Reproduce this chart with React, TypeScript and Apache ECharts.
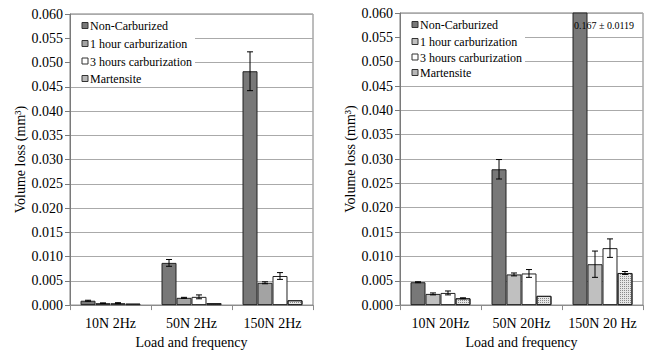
import React, { useEffect, useRef } from "react";
import * as echarts from "echarts";

const categoriesA = ["10N 2Hz", "50N 2Hz", "150N 2Hz"];
const categoriesB = ["10N 20Hz", "50N 20Hz", "150N 20 Hz"];
const seriesNames = ["Non-Carburized", "1 hour carburization", "3 hours carburization", "Martensite"];
const yTicks = { min: 0, max: 0.06, interval: 0.005 };

// Chart A (2 Hz)
const nonCarbA = [0.0009, 0.0087, 0.0482];
const oneHourA = [0.0004, 0.0015, 0.0046];
const threeHourA = [0.0004, 0.0017, 0.006];
const martA = [0.0003, 0.0004, 0.001];
const nonCarbErrA = [0.0001, 0.0007, 0.004];
const oneHourErrA = [0.00005, 0.0001, 0.0002];
const threeHourErrA = [0.0001, 0.0004, 0.0007];
const martErrA = [0, 0, 0];

// Chart B (20 Hz)
const nonCarbB = [0.0047, 0.0279, 0.167];
const oneHourB = [0.0023, 0.0063, 0.0084];
const threeHourB = [0.0025, 0.0065, 0.0117];
const martB = [0.0014, 0.0019, 0.0066];
const nonCarbErrB = [0.0001, 0.002, 0];
const oneHourErrB = [0.0002, 0.0003, 0.0027];
const threeHourErrB = [0.0004, 0.0008, 0.0019];
const martErrB = [0.0001, 0, 0.0003];

const annotationText = "0.167 ± 0.0119";

const FONT = "Liberation Serif, serif";
const GAP = 0.26;

export default function App() {
  const ref = useRef<HTMLDivElement>(null);
  useEffect(() => {
    if (!ref.current) return;
    const chart = echarts.init(ref.current, null, { renderer: "svg" });

    const colorsA = ["#787878", "#a3a3a3", "#ffffff", "#e6e6e6"];
    const colorsB = ["#787878", "#c0c0c0", "#ffffff", "#e6e6e6"];
    const legendIconA = ["#787878", "#a3a3a3", "#ffffff", "#b8b8b8"];
    const legendIconB = ["#787878", "#c0c0c0", "#ffffff", "#b8b8b8"];
    const decal = {
      symbol: "rect",
      symbolSize: 1,
      dashArrayX: [1, 1],
      dashArrayY: [1, 1],
      color: "#8a8a8a",
    };

    const valsA = [nonCarbA, oneHourA, threeHourA, martA];
    const errsA = [nonCarbErrA, oneHourErrA, threeHourErrA, martErrA];
    const valsB = [nonCarbB, oneHourB, threeHourB, martB];
    const errsB = [nonCarbErrB, oneHourErrB, threeHourErrB, martErrB];

    const barSeries = (gi: number, vals: number[][], colors: string[]) =>
      vals.map((v, i) => ({
        type: "bar",
        name: seriesNames[i],
        xAxisIndex: gi,
        yAxisIndex: gi,
        data: v,
        barGap: "0%",
        barCategoryGap: GAP * 100 + "%",
        clip: true,
        itemStyle: {
          color: colors[i],
          borderColor: "#222",
          borderWidth: 1,
          ...(i === 3 ? { decal } : {}),
        },
      }));

    const errSeries = (gi: number, vals: number[][], errs: number[][]) => {
      const data: number[][] = [];
      vals.forEach((v, si) =>
        v.forEach((val, ci) => {
          const e = errs[si][ci];
          if (e > 0 && val + e < 0.06) data.push([ci, val - e, val + e, si]);
        })
      );
      return {
        type: "custom",
        xAxisIndex: gi,
        yAxisIndex: gi,
        z: 10,
        encode: { x: 0, y: [1, 2] },
        data,
        renderItem: (params: any, api: any) => {
          const ci = api.value(0);
          const lo = api.value(1);
          const hi = api.value(2);
          const si = api.value(3);
          const band = api.size([1, 0])[0];
          const total = band * (1 - GAP);
          const bw = total / 4;
          const cx = api.coord([ci, 0])[0] - total / 2 + (si + 0.5) * bw;
          const yl = api.coord([ci, lo])[1];
          const yh = api.coord([ci, hi])[1];
          const st = { stroke: "#000", lineWidth: 1 };
          return {
            type: "group",
            children: [
              { type: "line", shape: { x1: cx, y1: yl, x2: cx, y2: yh }, style: st },
              { type: "line", shape: { x1: cx - 3, y1: yl, x2: cx + 3, y2: yl }, style: st },
              { type: "line", shape: { x1: cx - 3, y1: yh, x2: cx + 3, y2: yh }, style: st },
            ],
          };
        },
      };
    };

    const xAxis = (gi: number, cats: string[], nameGap: number) => ({
      type: "category",
      gridIndex: gi,
      data: cats,
      name: "Load and frequency",
      nameLocation: "middle",
      nameGap,
      nameTextStyle: { fontFamily: FONT, fontSize: 14, color: "#000" },
      axisLine: { lineStyle: { color: "#8c8c8c" } },
      axisTick: { show: true, length: 5, lineStyle: { color: "#8c8c8c" } },
      axisLabel: { fontFamily: FONT, fontSize: 14, color: "#000", margin: 11, interval: 0 },
    });

    const yAxis = (gi: number) => ({
      type: "value",
      gridIndex: gi,
      min: yTicks.min,
      max: yTicks.max,
      interval: yTicks.interval,
      name: "Volume loss (mm³)",
      nameLocation: "middle",
      nameGap: 43,
      nameTextStyle: { fontFamily: FONT, fontSize: 14, color: "#000" },
      axisLine: { show: true, lineStyle: { color: "#7a7a7a" } },
      axisTick: { show: true, length: 5, lineStyle: { color: "#7a7a7a" } },
      axisLabel: {
        fontFamily: FONT,
        fontSize: 14,
        color: "#000",
        margin: 7,
        formatter: (v: number) => v.toFixed(3),
      },
      splitLine: { lineStyle: { color: "#aaaaaa" } },
    });

    const legendGraphic = (
      boxX: number, boxY: number, boxW: number, boxH: number,
      iconX: number, rows: number[], icons: string[]
    ) => ({
      type: "group",
      z: 50,
      children: [
        { type: "rect", shape: { x: boxX, y: boxY, width: boxW, height: boxH }, style: { fill: "#fff" }, z: 50 },
        ...seriesNames.flatMap((n, i) => [
          {
            type: "rect",
            shape: { x: iconX, y: rows[i] - 3.5, width: 6, height: 6 },
            style: { fill: icons[i], stroke: "#333", lineWidth: 1 },
            z: 51,
          },
          {
            type: "text",
            x: iconX + 8,
            y: rows[i],
            style: { text: n, fontFamily: FONT, fontSize: 12, fill: "#000", verticalAlign: "middle", align: "left" },
            z: 51,
          },
        ]),
      ],
    });

    chart.setOption({
      animation: false,
      aria: { enabled: false },
      textStyle: { fontFamily: FONT },
      grid: [
        { left: 70, top: 14, width: 243, height: 300, show: true, borderColor: "#7a7a7a", borderWidth: 1, backgroundColor: "transparent" },
        { left: 400, top: 13, width: 243, height: 299, show: true, borderColor: "#7a7a7a", borderWidth: 1, backgroundColor: "transparent" },
      ],
      xAxis: [xAxis(0, categoriesA, 26), xAxis(1, categoriesB, 25)],
      yAxis: [yAxis(0), yAxis(1)],
      series: [
        ...barSeries(0, valsA, colorsA),
        ...barSeries(1, valsB, colorsB),
        errSeries(0, valsA, errsA),
        errSeries(1, valsB, errsB),
      ],
      graphic: [
        legendGraphic(71, 15, 124, 72, 82, [26, 44, 61.5, 79], legendIconA),
        legendGraphic(401, 14, 124, 68, 412, [25, 42, 57.5, 73], legendIconB),
        {
          type: "text",
          left: 574,
          top: 20,
          z: 100,
          style: { text: annotationText, fontFamily: FONT, fontSize: 10, fill: "#000" },
        },
      ],
    } as any);

    return () => chart.dispose();
  }, []);

  return (
    <div
      ref={ref}
      style={{ position: "fixed", left: 0, top: 0, width: 646, height: 354, background: "#fff" }}
    />
  );
}
